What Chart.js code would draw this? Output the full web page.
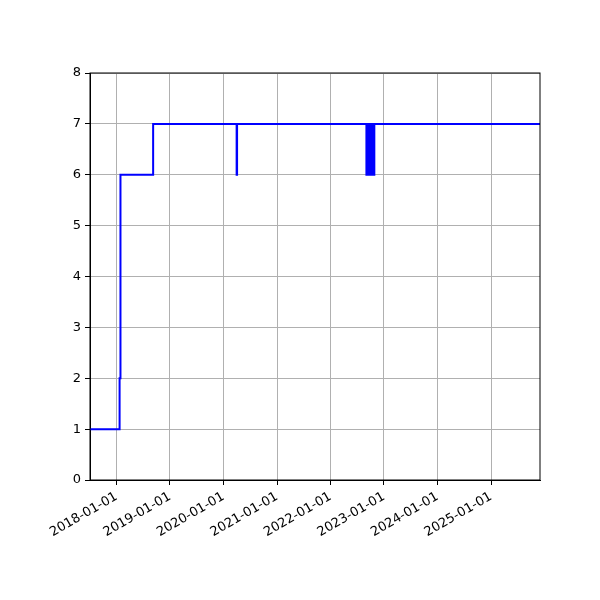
<!DOCTYPE html>
<html>
<head>
<meta charset="utf-8">
<script src="https://cdn.jsdelivr.net/npm/chart.js@4"></script>
<style>
  body { margin: 0; background: #fff; }
</style>
</head>
<body>
<canvas id="stepChart" width="600" height="600"></canvas>
<script>
// Step series: date of change and the value from that date on
const dates = [
    "2017-07-04", "2018-01-22", "2018-01-28", "2018-09-08",
    "2020-03-31", "2020-04-03",
    "2022-09-03", "2022-09-05", "2022-09-07", "2022-09-09", "2022-09-11", "2022-09-13",
    "2022-09-15", "2022-09-17", "2022-09-19", "2022-09-21", "2022-09-23", "2022-09-25",
    "2022-09-27", "2022-09-29", "2022-10-01", "2022-10-03", "2022-10-05", "2022-10-07",
    "2022-10-09", "2022-10-11", "2022-10-13", "2022-10-15", "2022-10-17", "2022-10-19",
    "2022-10-21", "2022-10-23", "2022-10-25", "2022-10-27",
    "2025-12-01",
];
const values = [
    1, 2, 6, 7,
    6, 7,
    6, 7, 6, 7, 6, 7,
    6, 7, 6, 7, 6, 7,
    6, 7, 6, 7, 6, 7,
    6, 7, 6, 7, 6, 7,
    6, 7, 6, 7,
    7,
];
const tickDates = ["2018-01-01", "2019-01-01", "2020-01-01", "2021-01-01",
                   "2022-01-01", "2023-01-01", "2024-01-01", "2025-01-01"];
const xStart = "2017-07-04";
const xEnd = "2025-12-01";

const points = dates.map((d, i) => ({ x: Date.parse(d), y: values[i] }));
const tickValues = tickDates.map((d) => Date.parse(d));

function fmtDate(ms) {
    return new Date(ms).toISOString().slice(0, 10);
}

// matplotlib draws all four spines
const frame = {
    id: "frame",
    afterDraw(chart) {
        const { ctx, chartArea: a } = chart;
        ctx.save();
        ctx.strokeStyle = "#000";
        ctx.lineWidth = 1;
        ctx.strokeRect(a.left, a.top, a.right - a.left, a.bottom - a.top);
        ctx.restore();
    },
};

Chart.defaults.font.family = "'DejaVu Sans', sans-serif";
Chart.defaults.font.size = 13;
Chart.defaults.color = "#000";

new Chart(document.getElementById("stepChart").getContext("2d"), {
    type: "line",
    data: {
        datasets: [
            {
                data: points,
                borderColor: "#0000ff",
                borderWidth: 2,
                stepped: "before",
                pointRadius: 0,
                fill: false,
            },
        ],
    },
    options: {
        responsive: false,
        animation: false,
        layout: { padding: { top: 73, right: 60, left: 0, bottom: 0 } },
        plugins: {
            legend: { display: false },
            tooltip: { enabled: false },
        },
        scales: {
            x: {
                type: "linear",
                min: Date.parse(xStart),
                max: Date.parse(xEnd),
                afterBuildTicks: (scale) => {
                    scale.ticks = tickValues.map((v) => ({ value: v }));
                },
                afterFit: (scale) => { scale.height = 120; },
                ticks: {
                    callback: (v) => fmtDate(v),
                    minRotation: 30,
                    maxRotation: 30,
                    autoSkip: false,
                    padding: 4,
                },
                grid: {
                    color: "#b0b0b0",
                    lineWidth: 1,
                    tickColor: "#000",
                    tickLength: 5,
                },
                border: { color: "#000" },
            },
            y: {
                min: 0,
                max: 8,
                afterFit: (scale) => { scale.width = 90; },
                ticks: { stepSize: 1, padding: 4 },
                grid: {
                    color: "#b0b0b0",
                    lineWidth: 1,
                    tickColor: "#000",
                    tickLength: 5,
                },
                border: { color: "#000" },
            },
        },
    },
    plugins: [frame],
});
</script>
</body>
</html>
